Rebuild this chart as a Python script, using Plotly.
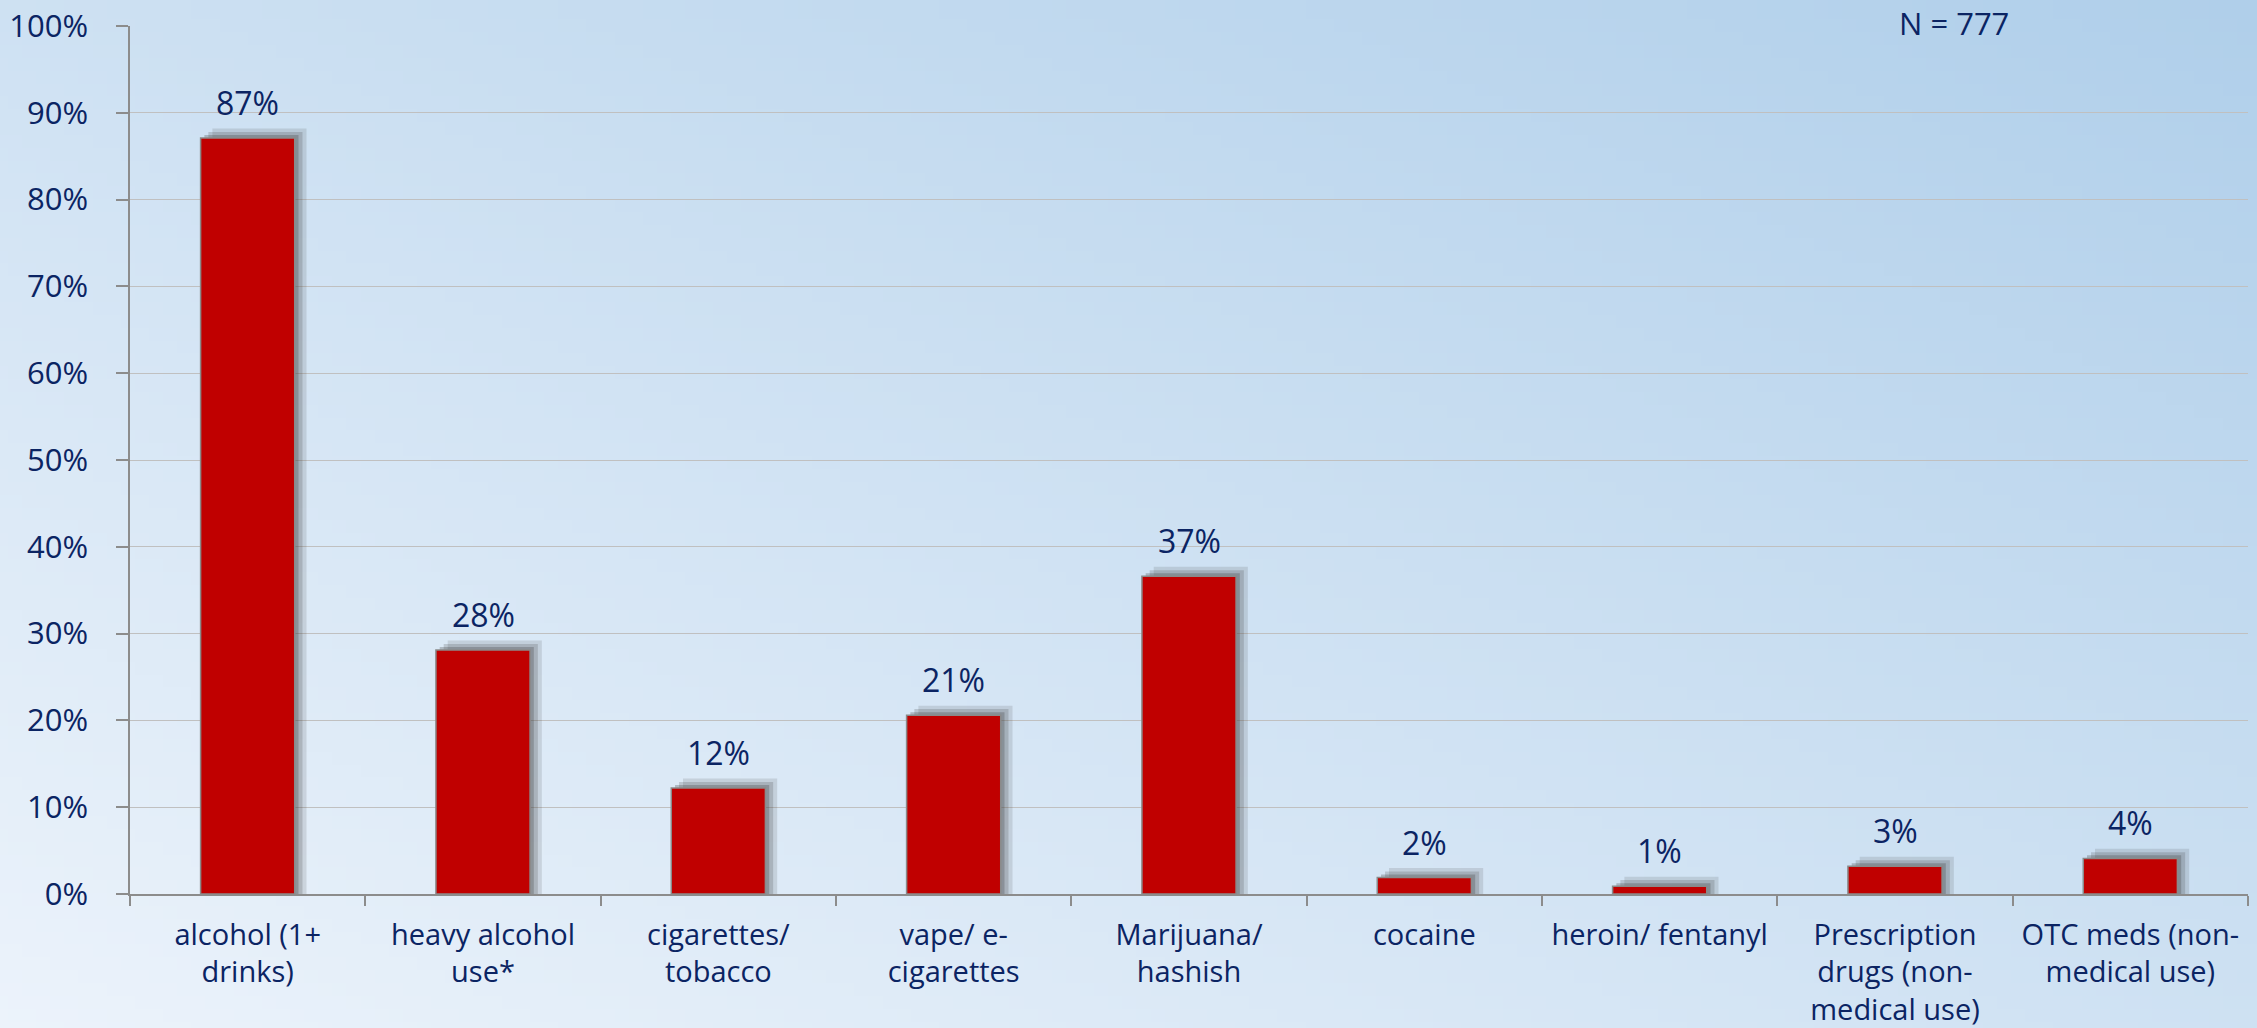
import base64
import struct
import zlib
import plotly.graph_objects as go

# ---------------- data ----------------
categories = [
    "alcohol (1+<br>drinks)",
    "heavy alcohol<br>use*",
    "cigarettes/<br>tobacco",
    "vape/ e-<br>cigarettes",
    "Marijuana/<br>hashish",
    "cocaine",
    "heroin/ fentanyl",
    "Prescription<br>drugs (non-<br>medical use)",
    "OTC meds (non-<br>medical use)",
]
values = [87.1, 28.1, 12.2, 20.6, 36.6, 1.9, 0.9, 3.2, 4.1]
value_labels = ["87%", "28%", "12%", "21%", "37%", "2%", "1%", "3%", "4%"]
y_ticks = [0, 10, 20, 30, 40, 50, 60, 70, 80, 90, 100]
y_tick_labels = ["0%", "10%", "20%", "30%", "40%", "50%", "60%", "70%", "80%", "90%", "100%"]
n_label = "N = 777"

# ---------------- style ----------------
W, H = 2257, 1028
ML, MR, MT, MB = 130, 9, 26, 134
FONT = "'Open Sans', sans-serif"
TXT = "#0B2463"
BAR = "#C00000"
FS_TICK = 31
FS_DATA = 32
FS_CAT = 29


def make_gradient_png(w, h, c0, c1):
    rows = []
    for j in range(h):
        row = bytearray([0])
        for i in range(w):
            t = (i / (w - 1) + (1 - j / (h - 1))) / 2.0
            for k in range(3):
                row.append(int(round(c0[k] + (c1[k] - c0[k]) * t)))
        rows.append(bytes(row))
    raw = b"".join(rows)

    def chunk(tag, data):
        return (struct.pack(">I", len(data)) + tag + data
                + struct.pack(">I", zlib.crc32(tag + data) & 0xFFFFFFFF))

    png = (b"\x89PNG\r\n\x1a\n"
           + chunk(b"IHDR", struct.pack(">IIBBBBB", w, h, 8, 2, 0, 0, 0))
           + chunk(b"IDAT", zlib.compress(raw, 9))
           + chunk(b"IEND", b""))
    return "data:image/png;base64," + base64.b64encode(png).decode()


bg_uri = make_gradient_png(160, 80, (236, 243, 251), (176, 207, 234))

pw = W - ML - MR
ph = H - MT - MB

fig = go.Figure()

# soft shadow layers (derived from data)
for dx, dy, op in [(0.05, 1.1, 0.14), (0.033, 0.7, 0.2), (0.016, 0.35, 0.28)]:
    fig.add_trace(go.Bar(
        x=categories, y=[v + dy for v in values],
        width=0.4, offset=-0.2 + dx,
        marker=dict(color=f"rgba(60,60,60,{op})", line=dict(width=0)),
        hoverinfo="skip", showlegend=False,
    ))

fig.add_trace(go.Bar(
    x=categories, y=values,
    width=0.4, offset=-0.2,
    marker=dict(color=BAR, line=dict(color="#8A8A8A", width=1.5)),
    showlegend=False,
))

for c, v, lab in zip(categories, values, value_labels):
    fig.add_annotation(
        x=c, y=v, text=lab, showarrow=False,
        yanchor="bottom", xanchor="center", yshift=12,
        font=dict(family=FONT, size=FS_DATA, color=TXT),
    )

fig.add_annotation(
    xref="paper", yref="paper", x=0.861, y=1 + MT / ph,
    text=n_label, showarrow=False, xanchor="center", yanchor="top",
    font=dict(family=FONT, size=FS_TICK, color=TXT),
)

fig.add_layout_image(dict(
    source=bg_uri, xref="paper", yref="paper",
    x=-ML / pw, y=1 + MT / ph, sizex=W / pw, sizey=H / ph,
    xanchor="left", yanchor="top", sizing="stretch", layer="below",
))

fig.update_layout(
    width=W, height=H,
    margin=dict(l=ML, r=MR, t=MT, b=MB, pad=0),
    barmode="overlay",
    paper_bgcolor="#CDE0F2",
    plot_bgcolor="rgba(0,0,0,0)",
    font=dict(family=FONT, size=FS_TICK, color=TXT),
    showlegend=False,
)
fig.update_xaxes(
    type="category", automargin=False,
    showline=True, linecolor="#8C8C8C", linewidth=1.5,
    ticks="outside", tickson="boundaries", ticklen=10, tickcolor="#8C8C8C",
    tickwidth=1.5, showgrid=False, ticklabelstandoff=14,
    tickfont=dict(family=FONT, size=FS_CAT, color=TXT),
)
fig.update_yaxes(
    range=[0, 100], tickmode="array", tickvals=y_ticks, ticktext=y_tick_labels,
    automargin=False,
    showline=True, linecolor="#8C8C8C", linewidth=1.5,
    ticks="outside", ticklen=12, tickcolor="#8C8C8C", tickwidth=1.5,
    ticklabelstandoff=22,
    showgrid=True, gridcolor="#C0C0C0", gridwidth=1.2, zeroline=False,
    tickfont=dict(family=FONT, size=FS_TICK, color=TXT),
)

fig.write_html(
    "out.html",
    config={"displayModeBar": False},
    post_script="document.body.style.margin='0';document.body.style.padding='0';"
                "document.body.style.overflow='hidden';",
)
